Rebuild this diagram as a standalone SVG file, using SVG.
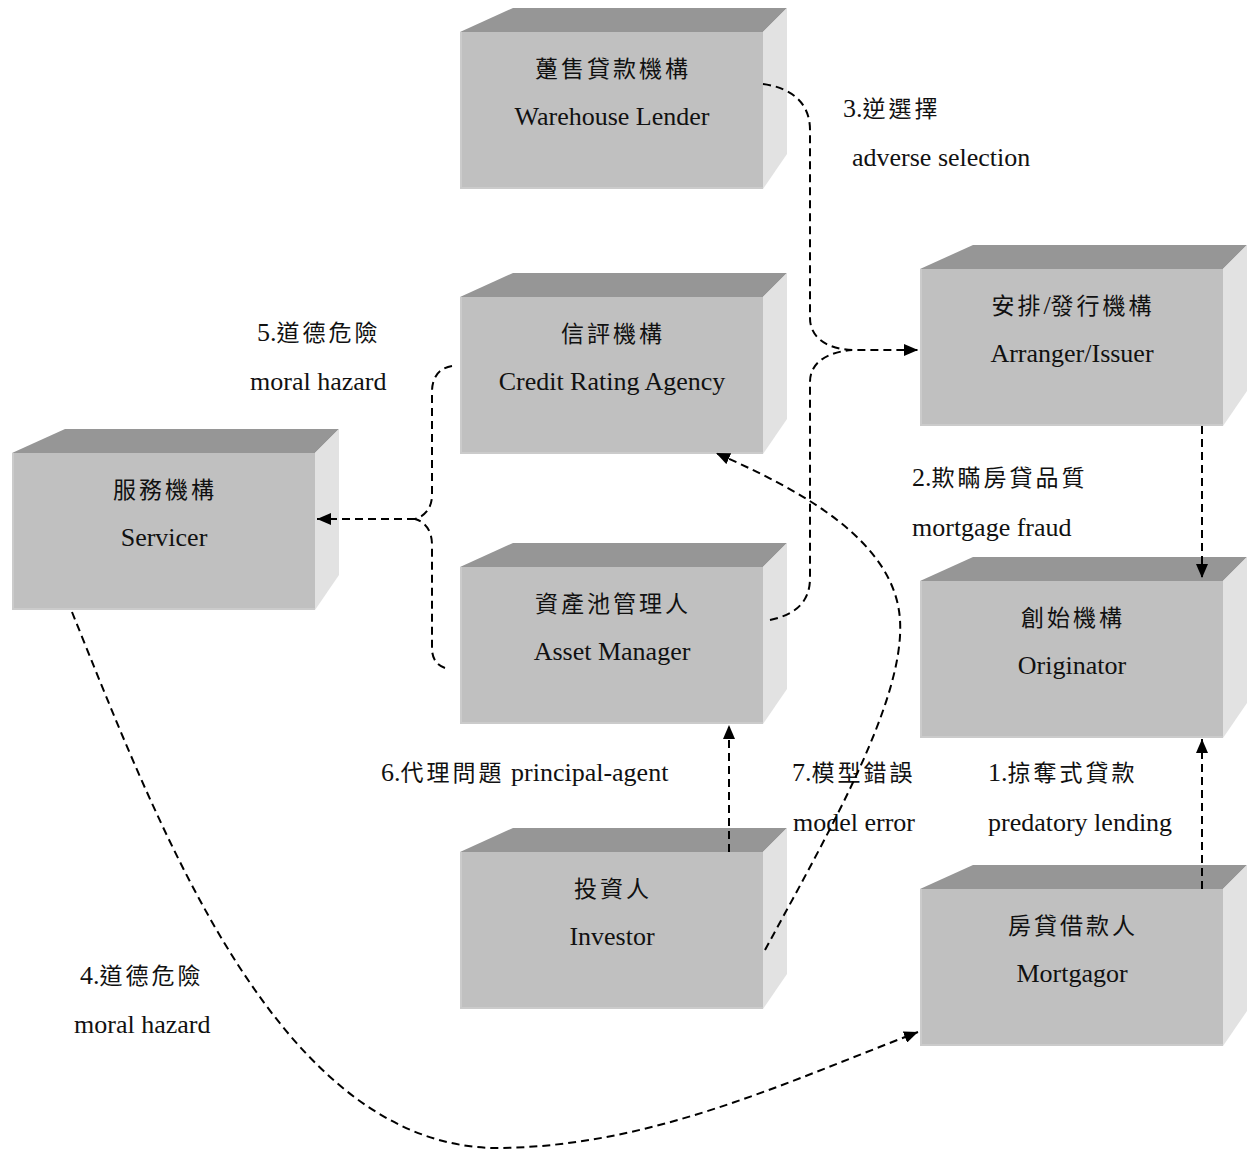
<svg xmlns="http://www.w3.org/2000/svg" xmlns:xlink="http://www.w3.org/1999/xlink" width="1255" height="1150" viewBox="0 0 1255 1150">
  <style>
    .front { fill: #c0c0c0; }
    .top { fill: #969696; }
    .side { fill: #e2e2e2; }
    .edge { fill: none; stroke: #cbcbcb; stroke-width: 2; }
    text { font-family: "Liberation Serif", "Noto Sans CJK TC", serif; font-size: 26px; fill: #111; }
    .cjk { font-family: "Noto Sans CJK TC", "Liberation Serif", sans-serif; font-size: 23px; letter-spacing: 3px; }
    .name { text-anchor: middle; }
    .link { fill: none; stroke: #000; stroke-width: 2; stroke-dasharray: 8 5; }
    .arrow { marker-end: url(#head); }
  </style>
  <defs>
    <marker id="head" viewBox="0 0 14 12" refX="14" refY="6" markerWidth="14" markerHeight="12" markerUnits="userSpaceOnUse" orient="auto">
      <path d="M0,0 L14,6 L0,12 z" fill="#000"/>
    </marker>
    <!-- shaded block: front face 303 x 157, top and right faces in perspective -->
    <g id="block">
      <polygon class="top" points="0,0 53,-24 327,-24 303,0"/>
      <polygon class="side" points="303,0 327,-24 327,122 303,157"/>
      <rect class="front" x="0" y="0" width="303" height="157"/>
      <polyline class="edge" points="1,0 1,156 303,156"/>
    </g>
  </defs>

  <!-- nodes -->
  <g id="warehouse-lender" transform="translate(460,32)">
    <use xlink:href="#block"/>
    <text class="name cjk" x="153" y="45">躉售貸款機構</text>
    <text class="name" x="152" y="93">Warehouse Lender</text>
  </g>
  <g id="credit-rating-agency" transform="translate(460,297)">
    <use xlink:href="#block"/>
    <text class="name cjk" x="153" y="45">信評機構</text>
    <text class="name" x="152" y="93">Credit Rating Agency</text>
  </g>
  <g id="arranger-issuer" transform="translate(920,269)">
    <use xlink:href="#block"/>
    <text class="name" x="153" y="45"><tspan class="cjk">安排</tspan>/<tspan class="cjk">發行機構</tspan></text>
    <text class="name" x="152" y="93">Arranger/Issuer</text>
  </g>
  <g id="servicer" transform="translate(12,453)">
    <use xlink:href="#block"/>
    <text class="name cjk" x="153" y="45">服務機構</text>
    <text class="name" x="152" y="93">Servicer</text>
  </g>
  <g id="asset-manager" transform="translate(460,567)">
    <use xlink:href="#block"/>
    <text class="name cjk" x="153" y="45">資產池管理人</text>
    <text class="name" x="152" y="93">Asset Manager</text>
  </g>
  <g id="originator" transform="translate(920,581)">
    <use xlink:href="#block"/>
    <text class="name cjk" x="153" y="45">創始機構</text>
    <text class="name" x="152" y="93">Originator</text>
  </g>
  <g id="investor" transform="translate(460,852)">
    <use xlink:href="#block"/>
    <text class="name cjk" x="153" y="45">投資人</text>
    <text class="name" x="152" y="93">Investor</text>
  </g>
  <g id="mortgagor" transform="translate(920,889)">
    <use xlink:href="#block"/>
    <text class="name cjk" x="153" y="45">房貸借款人</text>
    <text class="name" x="152" y="93">Mortgagor</text>
  </g>

  <!-- problem labels -->
  <g id="labels">
    <text x="843" y="117">3.<tspan class="cjk">逆選擇</tspan></text>
    <text x="852" y="166">adverse selection</text>
    <text x="257" y="341">5.<tspan class="cjk">道德危險</tspan></text>
    <text x="250" y="390">moral hazard</text>
    <text x="912" y="486">2.<tspan class="cjk">欺瞞房貸品質</tspan></text>
    <text x="912" y="536">mortgage fraud</text>
    <text x="381" y="781">6.<tspan class="cjk">代理問題</tspan> principal-agent</text>
    <text x="792" y="781">7.<tspan class="cjk">模型錯誤</tspan></text>
    <text x="793" y="831">model error</text>
    <text x="988" y="781">1.<tspan class="cjk">掠奪式貸款</tspan></text>
    <text x="988" y="831">predatory lending</text>
    <text x="80" y="984">4.<tspan class="cjk">道德危險</tspan></text>
    <text x="74" y="1033">moral hazard</text>
  </g>

  <!-- connectors -->
  <g id="connectors">
    <!-- warehouse lender / asset manager merge into arranger -->
    <path class="link arrow" d="M763,84 C793,88 810,104 810,130 L810,318 C810,338 828,350 855,350 L918,350"/>
    <path class="link" d="M770,620 C798,614 810,600 810,578 L810,382 C810,362 828,352 852,350"/>
    <!-- arranger to originator -->
    <path class="link arrow" d="M1202,426 L1202,578"/>
    <!-- mortgagor to originator -->
    <path class="link arrow" d="M1202,889 L1202,739"/>
    <!-- investor to asset manager -->
    <path class="link arrow" d="M729,852 L729,725"/>
    <!-- investor to credit rating agency -->
    <path class="link arrow" d="M765,950 C830,830 905,700 900,620 C895,540 800,490 716,453"/>
    <!-- credit rating agency / asset manager merge into servicer -->
    <path class="link" d="M452,366 C440,368 432,376 432,392 L432,495 C432,508 425,516 415,519"/>
    <path class="link" d="M445,668 C436,665 432,658 432,648 L432,545 C432,530 425,522 415,519"/>
    <path class="link arrow" d="M415,519 L317,519"/>
    <!-- servicer to mortgagor -->
    <path class="link arrow" d="M72,612 C160,830 280,1150 500,1148 C650,1146 780,1085 918,1032"/>
  </g>
</svg>
